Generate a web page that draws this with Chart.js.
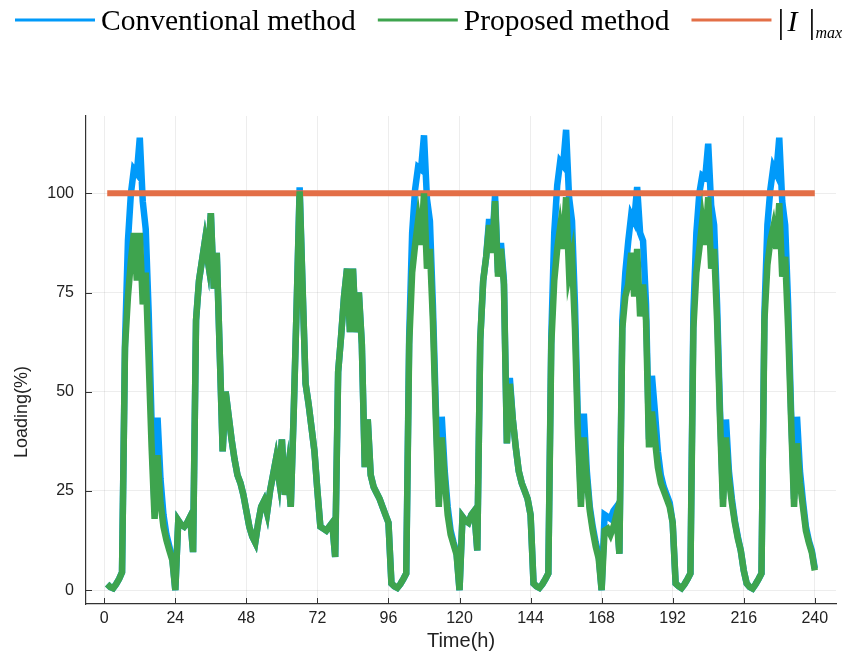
<!DOCTYPE html>
<html>
<head>
<meta charset="utf-8">
<script src="https://cdn.jsdelivr.net/npm/chart.js@4.4.1/dist/chart.umd.min.js"></script>
<style>
  html, body { margin: 0; padding: 0; background: #ffffff; }
  #wrap { width: 848px; height: 661px; }
</style>
</head>
<body>
<div id="wrap"><canvas id="myChart" width="848" height="661"></canvas></div>
<script>
const seriesLabels = ["Conventional method", "Proposed method", "|I|max"];
const xTicks = [0, 24, 48, 72, 96, 120, 144, 168, 192, 216, 240];
const yTicks = [0, 25, 50, 75, 100];
const limitValue = 100;

// hourly loading, one row per day
const proposed = [
  1.5, 0.8, 0.5, 1.5, 2.8, 4.5, 61, 74, 83, 90, 78, 90, 72, 80, 58, 36, 18, 34, 22, 16, 12.6, 10, 7.5, 0,
  17.6, 16.5, 16, 17, 18.5, 9.6, 68, 78, 83, 88, 83, 95, 76, 85, 60, 35, 50, 44, 38, 33, 29, 27, 24, 20,
  16, 13.5, 12, 17, 21, 22.5, 19.5, 25, 29, 33, 28, 38, 24, 30, 21, 45, 72, 100.5, 76, 52, 47, 41, 35, 25,
  16, 15.5, 15, 16, 17, 8.4, 55, 64, 74, 81, 65, 81, 65, 75, 62, 31, 43, 29, 26, 24.5, 23, 21, 19, 17,
  1.7, 1.0, 0.6, 1.5, 2.8, 4.2, 62, 80, 87, 93, 87, 100, 81, 86, 68, 43, 21, 38.5, 28, 19, 14, 11.5, 9, 0,
  18.5, 17.5, 17, 19, 20, 10, 63, 78, 84, 92, 85, 98, 79, 86, 77, 37, 52, 43, 36, 30, 27, 25, 23, 19,
  1.7, 1.0, 0.6, 1.5, 2.8, 4.2, 62, 78, 86, 91.5, 86, 99, 80, 84, 66, 39, 21, 38.5, 28, 20, 15, 11, 8, 0,
  15, 15.5, 14, 16, 19, 9.2, 66, 74, 77, 85, 74, 86, 69, 77, 68, 36, 45, 38, 31, 27, 25, 23, 21, 17,
  1.7, 1.0, 0.5, 1.5, 2.8, 4.2, 66, 80, 86, 93, 87, 99, 81, 86, 68, 43, 21, 38.5, 28, 22, 17, 13, 10, 5,
  1.7, 0.8, 0.4, 1.5, 2.8, 4.2, 68, 82, 88, 91.5, 86, 97.5, 79, 84, 66, 43, 21, 37, 27, 21, 15, 12, 9.5, 5,
];

const conventional = [
  1.5, 0.8, 0.5, 1.5, 2.8, 4.5, 62, 88, 100, 106, 105, 114, 98, 91, 70, 42, 20, 43.5, 28, 19, 14, 11, 8, 0,
  17.6, 16.5, 16, 17, 18.5, 9.6, 68, 78, 83, 88, 83, 95, 76, 85, 60, 35, 50, 44, 38, 33, 29, 27, 24, 20,
  16, 13.5, 12, 17, 21, 22.5, 19.5, 25, 29, 33, 28, 38, 24, 30, 21, 45, 72, 101.5, 76, 52, 47, 41, 35, 25,
  16, 15.5, 15, 16, 17, 8.4, 55, 64, 74, 81, 65, 81, 65, 75, 62, 31, 43, 29, 26, 24.5, 23, 21, 19, 17,
  1.7, 1.0, 0.6, 1.5, 2.8, 4.2, 64, 90, 101, 106.6, 106, 114.6, 98.6, 93, 72, 46, 23, 43.7, 30, 21, 15, 12, 9.5, 0,
  18.5, 17.5, 17, 19, 20, 10, 63, 78, 84, 93.5, 86, 99.5, 80, 87.5, 78, 37, 53.5, 43, 36, 30, 27, 25, 23, 19,
  1.7, 1.0, 0.6, 1.5, 2.8, 4.2, 64, 90, 102, 108, 107, 116, 99, 93, 72, 42, 23, 44.5, 30, 21, 16, 12, 9, 0,
  19, 18.5, 18, 20, 21, 9.2, 68, 80, 88, 94.5, 93, 101.6, 90, 88, 72, 38, 54, 45, 35, 29, 26, 24, 22, 17,
  1.7, 1.0, 0.5, 1.5, 2.8, 4.2, 70, 90, 100, 104.5, 104, 112.5, 97, 92, 72, 45, 23, 43, 30, 23, 17.5, 13.5, 10, 5,
  1.7, 0.8, 0.4, 1.5, 2.8, 4.2, 70, 92, 101, 106.6, 105, 114, 98, 92, 72, 45, 23, 43.7, 30, 22.5, 16, 12.5, 10, 5.5,
];

const colors = ["#009AFA", "#3EA44E", "#E36F47"];
const yTitle = "Loading(%)";

const toPoints = (values) => values.map((v, i) => ({ x: i + 1, y: v }));
const limitLine = [
  { x: 1, y: limitValue },
  { x: conventional.length, y: limitValue },
];

// Plots.jl style ticks pointing into the plot, plus the y title
const axisExtras = {
  id: "axisExtras",
  afterDraw(chart) {
    const { ctx, chartArea, scales } = chart;
    ctx.save();
    ctx.strokeStyle = "#333";
    ctx.lineWidth = 1;
    ctx.beginPath();
    xTicks.forEach((t) => {
      const px = Math.round(scales.x.getPixelForValue(t)) + 0.5;
      ctx.moveTo(px, chartArea.bottom);
      ctx.lineTo(px, chartArea.bottom - 6);
    });
    yTicks.forEach((t) => {
      const py = Math.round(scales.y.getPixelForValue(t)) + 0.5;
      ctx.moveTo(chartArea.left, py);
      ctx.lineTo(chartArea.left + 6, py);
    });
    ctx.stroke();

    ctx.translate(22, 412);
    ctx.rotate(-Math.PI / 2);
    ctx.fillStyle = "#222";
    ctx.font = "18px 'Liberation Sans', Arial, sans-serif";
    ctx.textAlign = "center";
    ctx.textBaseline = "middle";
    ctx.fillText(yTitle, 0, 0);
    ctx.restore();
  },
};

const topLegend = {
  id: "topLegend",
  afterDraw(chart) {
    const ctx = chart.ctx;
    const y = 20;
    const font = "29.5px 'Liberation Serif', 'Times New Roman', serif";
    let x = 15;
    ctx.save();
    ctx.textBaseline = "alphabetic";
    ctx.font = font;
    [0, 1, 2].forEach((i) => {
      ctx.strokeStyle = colors[i];
      ctx.lineWidth = 3;
      ctx.beginPath();
      ctx.moveTo(x, y);
      ctx.lineTo(x + 80, y);
      ctx.stroke();
      x += 86;
      ctx.fillStyle = "#000";
      if (i < 2) {
        ctx.font = font;
        ctx.fillText(seriesLabels[i], x, 30);
        x += ctx.measureText(seriesLabels[i]).width + 22;
      } else {
        ctx.font = "34px 'Liberation Serif', serif";
        ctx.fillText("|", x, 33);
        ctx.font = "italic 30px 'Liberation Serif', serif";
        ctx.fillText("I", x + 10, 31);
        ctx.font = "34px 'Liberation Serif', serif";
        ctx.fillText("|", x + 31, 33);
        ctx.font = "italic 16px 'Liberation Serif', serif";
        ctx.fillText("max", x + 38, 38);
      }
    });
    ctx.restore();
  },
};

const ctx = document.getElementById("myChart");

new Chart(ctx, {
  type: "line",
  data: {
    datasets: [
      {
        label: seriesLabels[0],
        data: toPoints(conventional),
        borderColor: colors[0],
        backgroundColor: colors[0],
        borderWidth: 6.5,
        order: 3,
      },
      {
        label: seriesLabels[1],
        data: toPoints(proposed),
        borderColor: colors[1],
        backgroundColor: colors[1],
        borderWidth: 6.5,
        order: 1,
      },
      {
        label: seriesLabels[2],
        data: limitLine,
        borderColor: colors[2],
        backgroundColor: colors[2],
        borderWidth: 6,
        order: 2,
      },
    ],
  },
  options: {
    responsive: false,
    animation: false,
    devicePixelRatio: 1,
    elements: {
      point: { radius: 0 },
      line: { tension: 0, borderCapStyle: "butt", borderJoinStyle: "miter" },
    },
    layout: { padding: { top: 116, right: 12, left: 0, bottom: 0 } },
    scales: {
      x: {
        type: "linear",
        min: -6.17,
        max: 247.17,
        afterBuildTicks: (scale) => {
          scale.ticks = xTicks.map((v) => ({ value: v }));
        },
        afterFit: (scale) => {
          scale.height = 57;
        },
        ticks: {
          autoSkip: false,
          maxRotation: 0,
          padding: 5,
          color: "#222",
          font: { family: "'Liberation Sans', Arial, sans-serif", size: 16 },
        },
        grid: { color: "rgba(0,0,0,0.07)", lineWidth: 1, drawTicks: false },
        border: { display: true, color: "#333", width: 1.2 },
        title: {
          display: true,
          text: "Time(h)",
          color: "#222",
          font: { family: "'Liberation Sans', Arial, sans-serif", size: 20 },
          padding: { top: 0, bottom: 8 },
        },
      },
      y: {
        min: -3.48,
        max: 119.48,
        afterBuildTicks: (scale) => {
          scale.ticks = yTicks.map((v) => ({ value: v }));
        },
        afterFit: (scale) => {
          scale.width = 86;
        },
        ticks: {
          padding: 12,
          color: "#222",
          font: { family: "'Liberation Sans', Arial, sans-serif", size: 16 },
        },
        grid: { color: "rgba(0,0,0,0.07)", lineWidth: 1, drawTicks: false },
        border: { display: true, color: "#333", width: 1.2 },
      },
    },
    plugins: {
      legend: { display: false },
      tooltip: { enabled: false },
    },
  },
  plugins: [axisExtras, topLegend],
});
</script>
</body>
</html>
